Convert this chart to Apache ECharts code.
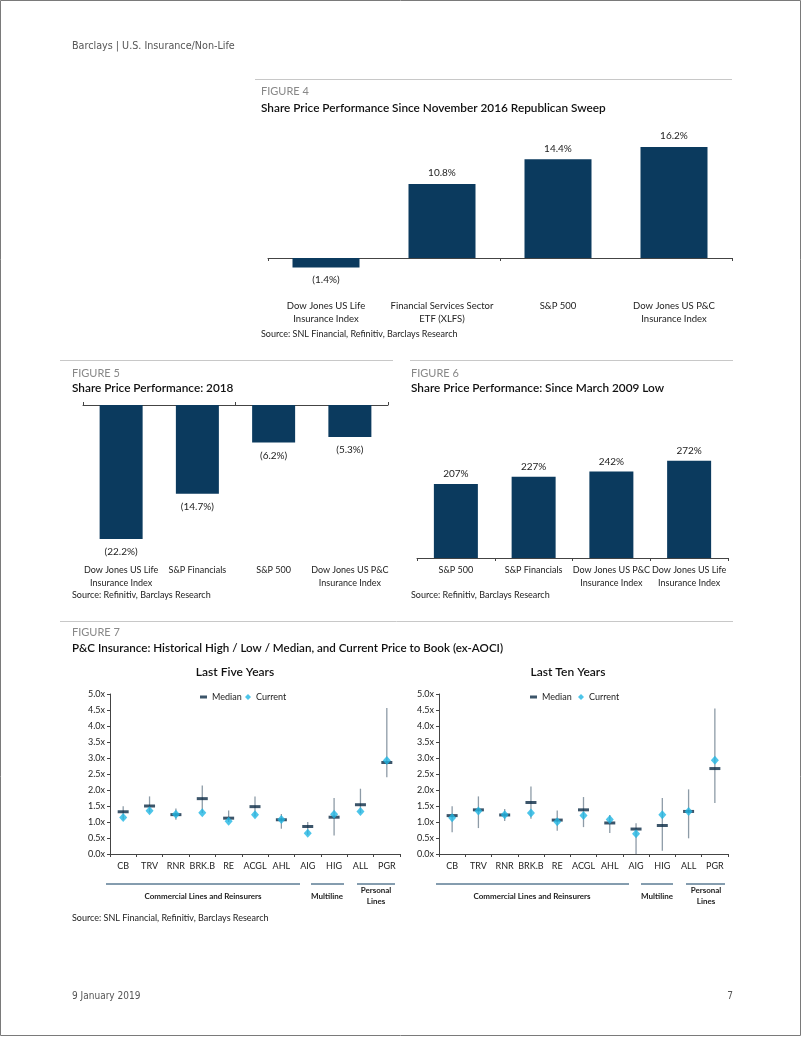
<!DOCTYPE html>
<html>
<head>
<meta charset="utf-8">
<script src="https://cdn.jsdelivr.net/npm/echarts@6/dist/echarts.min.js"></script>
<style>
html,body{margin:0;padding:0;background:#fff;}
#c{width:802px;height:1037px;}
</style>
</head>
<body>
<div id="c"></div>
<script>
// ---------- DATA ----------
const fig4Categories = ['Dow Jones US Life\nInsurance Index', 'Financial Services Sector\nETF (XLFS)', 'S&P 500', 'Dow Jones US P&C\nInsurance Index'];
const fig4Values = [-1.4, 10.8, 14.4, 16.2];

const fig5Categories = ['Dow Jones US Life\nInsurance Index', 'S&P Financials', 'S&P 500', 'Dow Jones US P&C\nInsurance Index'];
const fig5Values = [-22.2, -14.7, -6.2, -5.3];

const fig6Categories = ['S&P 500', 'S&P Financials', 'Dow Jones US P&C\nInsurance Index', 'Dow Jones US Life\nInsurance Index'];
const fig6Values = [207, 227, 242, 272];

const fig7Tickers = ['CB', 'TRV', 'RNR', 'BRK.B', 'RE', 'ACGL', 'AHL', 'AIG', 'HIG', 'ALL', 'PGR'];

const high5    = [1.49, 1.80, 1.42, 2.14, 1.36, 1.80, 1.25, 1.00, 1.75, 2.04, 4.56];
const low5     = [1.07, 1.30, 1.07, 1.28, 1.00, 1.17, 0.79, 0.60, 0.58, 1.28, 2.40];
const median5  = [1.32, 1.50, 1.23, 1.73, 1.12, 1.48, 1.07, 0.86, 1.15, 1.54, 2.86];
const current5 = [1.14, 1.35, 1.24, 1.29, 1.02, 1.23, 1.08, 0.65, 1.24, 1.33, 2.92];

const high10    = [1.49, 1.80, 1.41, 2.11, 1.36, 1.78, 1.22, 0.96, 1.75, 2.02, 4.55];
const low10     = [0.68, 0.81, 1.03, 1.10, 0.73, 0.84, 0.66, 0.00, 0.10, 0.49, 1.59];
const median10  = [1.20, 1.38, 1.22, 1.61, 1.06, 1.38, 0.97, 0.78, 0.89, 1.33, 2.67];
const current10 = [1.13, 1.34, 1.23, 1.28, 1.01, 1.20, 1.08, 0.63, 1.23, 1.33, 2.93];

// ---------- STYLE ----------
const FONT = 'Lato, "Open Sans", sans-serif';
const NARROW = '"DejaVu Sans Condensed", Lato, sans-serif';
const NAVY = '#0b3a5e';
const DASH = '#0b2a45';
const CYAN = '#21b6e3';
const RANGE = '#8d9ba7';
const AXIS = '#444';
const TXT = '#222';

function pctLabel(v) {
  return v < 0 ? '(' + Math.abs(v).toFixed(1) + '%)' : v.toFixed(1) + '%';
}

const chart = echarts.init(document.getElementById('c'), null, {renderer: 'canvas'});

const grids = [
  {left: 268, right: 70, top: 121, bottom: 1037 - 285.4},
  {left: 83, right: 414, top: 405, bottom: 1037 - 556},
  {left: 417, right: 74, top: 415, bottom: 1037 - 558},
  {left: 110, right: 802 - 400, top: 694, bottom: 1037 - 854},
  {left: 439, right: 802 - 728, top: 694, bottom: 1037 - 854}
];

const catLabel4 = {fontFamily: FONT, fontSize: 9.5, color: TXT, lineHeight: 13, interval: 0};
const catLabel56 = {fontFamily: FONT, fontSize: 9, color: TXT, lineHeight: 13, interval: 0};

const xAxes = [
  {gridIndex: 0, type: 'category', data: fig4Categories, axisLine: {onZero: true, lineStyle: {color: AXIS, width: 1}},
   axisTick: {show: true, length: 3, lineStyle: {color: AXIS}}, axisLabel: {show: false}},
  {gridIndex: 0, type: 'category', data: fig4Categories, position: 'bottom', axisLine: {show: false, onZero: false},
   axisTick: {show: false}, axisLabel: Object.assign({margin: 14}, catLabel4)},
  {gridIndex: 1, type: 'category', data: fig5Categories, position: 'top', axisLine: {onZero: false, lineStyle: {color: AXIS}},
   axisTick: {show: true, length: 3, lineStyle: {color: AXIS}}, axisLabel: {show: false}},
  {gridIndex: 1, type: 'category', data: fig5Categories, position: 'bottom', axisLine: {show: false, onZero: false},
   axisTick: {show: false}, axisLabel: Object.assign({margin: 8}, catLabel56)},
  {gridIndex: 2, type: 'category', data: fig6Categories, axisLine: {lineStyle: {color: AXIS}},
   axisTick: {show: true, length: 3, lineStyle: {color: AXIS}}, axisLabel: Object.assign({margin: 6}, catLabel56)},
  {gridIndex: 3, type: 'category', data: fig7Tickers, axisLine: {lineStyle: {color: AXIS}},
   axisTick: {show: true, length: 3, lineStyle: {color: AXIS}},
   axisLabel: {margin: 8, fontFamily: FONT, fontSize: 9, color: TXT, interval: 0}},
  {gridIndex: 4, type: 'category', data: fig7Tickers, axisLine: {lineStyle: {color: AXIS}},
   axisTick: {show: true, length: 3, lineStyle: {color: AXIS}},
   axisLabel: {margin: 8, fontFamily: FONT, fontSize: 9, color: TXT, interval: 0}}
];

const y7 = (gi) => ({gridIndex: gi, type: 'value', min: 0, max: 5, interval: 0.5,
  axisLine: {show: true, lineStyle: {color: AXIS}}, axisTick: {show: true, length: 3, lineStyle: {color: AXIS}},
  splitLine: {show: false},
  axisLabel: {fontFamily: FONT, fontSize: 9, color: TXT, margin: 5, formatter: v => v.toFixed(1) + 'x'}});

const yAxes = [
  {gridIndex: 0, type: 'value', min: -4, max: 20, show: false, splitLine: {show: false}},
  {gridIndex: 1, type: 'value', min: -25, max: 0, show: false, splitLine: {show: false}},
  {gridIndex: 2, type: 'value', min: 0, max: 400, show: false, splitLine: {show: false}},
  y7(3), y7(4)
];

const valLabel = {fontFamily: FONT, fontSize: 10, color: TXT};

function rangeSeries(name, xi, yi, low, high) {
  return {
    name: name, type: 'custom', xAxisIndex: xi, yAxisIndex: yi,
    data: low.map((l, i) => [i, l, high[i]]),
    encode: {x: 0, y: [1, 2]},
    renderItem: function (params, api) {
      const a = api.coord([api.value(0), api.value(1)]);
      const b = api.coord([api.value(0), api.value(2)]);
      return {type: 'line', shape: {x1: a[0], y1: a[1], x2: b[0], y2: b[1]},
        style: {stroke: RANGE, lineWidth: 1.3}};
    },
    z: 2, silent: true
  };
}

const series = [
  {type: 'bar', xAxisIndex: 0, yAxisIndex: 0,
   data: fig4Values.map(v => v < 0 ? {value: v, label: {position: 'bottom', distance: 7}} : v),
   barWidth: 67, itemStyle: {color: NAVY},
   label: {show: true, position: 'top', distance: 6, formatter: p => pctLabel(p.value), ...valLabel}},
  {type: 'bar', xAxisIndex: 2, yAxisIndex: 1, data: fig5Values, barWidth: 43,
   itemStyle: {color: NAVY},
   label: {show: true, position: 'bottom', distance: 8, formatter: p => pctLabel(p.value), ...valLabel}},
  {type: 'bar', xAxisIndex: 4, yAxisIndex: 2, data: fig6Values, barWidth: 44,
   itemStyle: {color: NAVY},
   label: {show: true, position: 'top', distance: 5, formatter: p => p.value + '%', ...valLabel}},

  rangeSeries('Range5', 5, 3, low5, high5),
  {name: 'Median', type: 'scatter', xAxisIndex: 5, yAxisIndex: 3, data: median5,
   symbol: 'rect', symbolSize: [11, 3], itemStyle: {color: DASH}, z: 3},
  {name: 'Current', type: 'scatter', xAxisIndex: 5, yAxisIndex: 3, data: current5,
   symbol: 'diamond', symbolSize: [8, 9], itemStyle: {color: CYAN}, z: 4},

  rangeSeries('Range10', 6, 4, low10, high10),
  {name: 'Median', type: 'scatter', xAxisIndex: 6, yAxisIndex: 4, data: median10,
   symbol: 'rect', symbolSize: [11, 3], itemStyle: {color: DASH}, z: 3},
  {name: 'Current', type: 'scatter', xAxisIndex: 6, yAxisIndex: 4, data: current10,
   symbol: 'diamond', symbolSize: [8, 9], itemStyle: {color: CYAN}, z: 4}
];

const legTxt = {fontFamily: FONT, fontSize: 9, color: TXT};
const legends = [
  {data: ['Median'], left: 200, top: 692.5, padding: 0, itemWidth: 7, itemHeight: 3, icon: 'rect', textStyle: legTxt, selectedMode: false},
  {data: ['Current'], left: 245, top: 692.5, padding: 0, itemWidth: 6, itemHeight: 6, icon: 'diamond', textStyle: legTxt, selectedMode: false},
  {data: ['Median'], left: 530, top: 692.5, padding: 0, itemWidth: 7, itemHeight: 3, icon: 'rect', textStyle: legTxt, selectedMode: false},
  {data: ['Current'], left: 578, top: 692.5, padding: 0, itemWidth: 6, itemHeight: 6, icon: 'diamond', textStyle: legTxt, selectedMode: false}
];

function txt(x, y, text, size, fill, opts) {
  return {type: 'text', x: x, y: y, silent: true,
    style: Object.assign({text: text, fontFamily: FONT, fontSize: size, fill: fill, align: 'left', verticalAlign: 'middle'}, (opts || {}))};
}
function hline(x1, x2, y, color, w) {
  return {type: 'line', silent: true, shape: {x1: x1, y1: y, x2: x2, y2: y}, style: {stroke: color, lineWidth: w || 1}};
}

const RULE = '#c8c8c8';
const TITLE = {fontWeight: 600};
const TS = 11.8;
const graphics = [
  {type: 'rect', silent: true, shape: {x: 0.5, y: 0.5, width: 800, height: 1035}, style: {fill: 'none', stroke: '#7a7a7a', lineWidth: 1}},
  txt(72, 46, 'Barclays | U.S. Insurance/Non-Life', 10.7, '#555', {fontFamily: NARROW}),
  hline(255, 732, 79.5, RULE),
  txt(261, 91, 'FIGURE 4', 11, '#888'),
  txt(261, 108, 'Share Price Performance Since November 2016 Republican Sweep', TS, '#111', TITLE),
  txt(261, 334, 'Source: SNL Financial, Refinitiv, Barclays Research', 9, TXT),
  hline(60, 393, 360.5, RULE),
  txt(72, 373, 'FIGURE 5', 11, '#888'),
  txt(72, 388, 'Share Price Performance: 2018', TS, '#111', TITLE),
  txt(72, 595, 'Source: Refinitiv, Barclays Research', 9, TXT),
  hline(410, 733, 360.5, RULE),
  txt(411, 373, 'FIGURE 6', 11, '#888'),
  txt(411, 388, 'Share Price Performance: Since March 2009 Low', TS, '#111', TITLE),
  txt(411, 595, 'Source: Refinitiv, Barclays Research', 9, TXT),
  hline(60, 733, 621.5, RULE),
  txt(72, 632, 'FIGURE 7', 11, '#888'),
  txt(72, 648, 'P&C Insurance: Historical High / Low / Median, and Current Price to Book (ex-AOCI)', 11.6, '#111', TITLE),
  txt(235, 672, 'Last Five Years', 12, '#111', {align: 'center', fontWeight: 600}),
  txt(568, 672, 'Last Ten Years', 12, '#111', {align: 'center', fontWeight: 600}),
  hline(106, 300, 884, NAVY, 1),
  hline(311, 344, 884, NAVY, 1),
  hline(357, 395, 884, NAVY, 1),
  txt(203, 896, 'Commercial Lines and Reinsurers', 8, TXT, {align: 'center', fontWeight: 'bold'}),
  txt(327, 896, 'Multiline', 8, TXT, {align: 'center', fontWeight: 'bold'}),
  txt(376, 890, 'Personal', 8, TXT, {align: 'center', fontWeight: 'bold'}),
  txt(376, 901, 'Lines', 8, TXT, {align: 'center', fontWeight: 'bold'}),
  hline(436, 629, 884, NAVY, 1),
  hline(641, 673, 884, NAVY, 1),
  hline(686, 725, 884, NAVY, 1),
  txt(532, 896, 'Commercial Lines and Reinsurers', 8, TXT, {align: 'center', fontWeight: 'bold'}),
  txt(657, 896, 'Multiline', 8, TXT, {align: 'center', fontWeight: 'bold'}),
  txt(706, 890, 'Personal', 8, TXT, {align: 'center', fontWeight: 'bold'}),
  txt(706, 901, 'Lines', 8, TXT, {align: 'center', fontWeight: 'bold'}),
  txt(72, 918, 'Source: SNL Financial, Refinitiv, Barclays Research', 9, TXT),
  txt(72, 996, '9 January 2019', 10, '#555', {fontFamily: NARROW}),
  txt(733, 996, '7', 10, '#555', {align: 'right', fontFamily: NARROW})
];

chart.setOption({
  animation: false,
  backgroundColor: '#fff',
  textStyle: {fontFamily: FONT},
  grid: grids,
  xAxis: xAxes,
  yAxis: yAxes,
  legend: legends,
  series: series,
  graphic: graphics
});
</script>
</body>
</html>
